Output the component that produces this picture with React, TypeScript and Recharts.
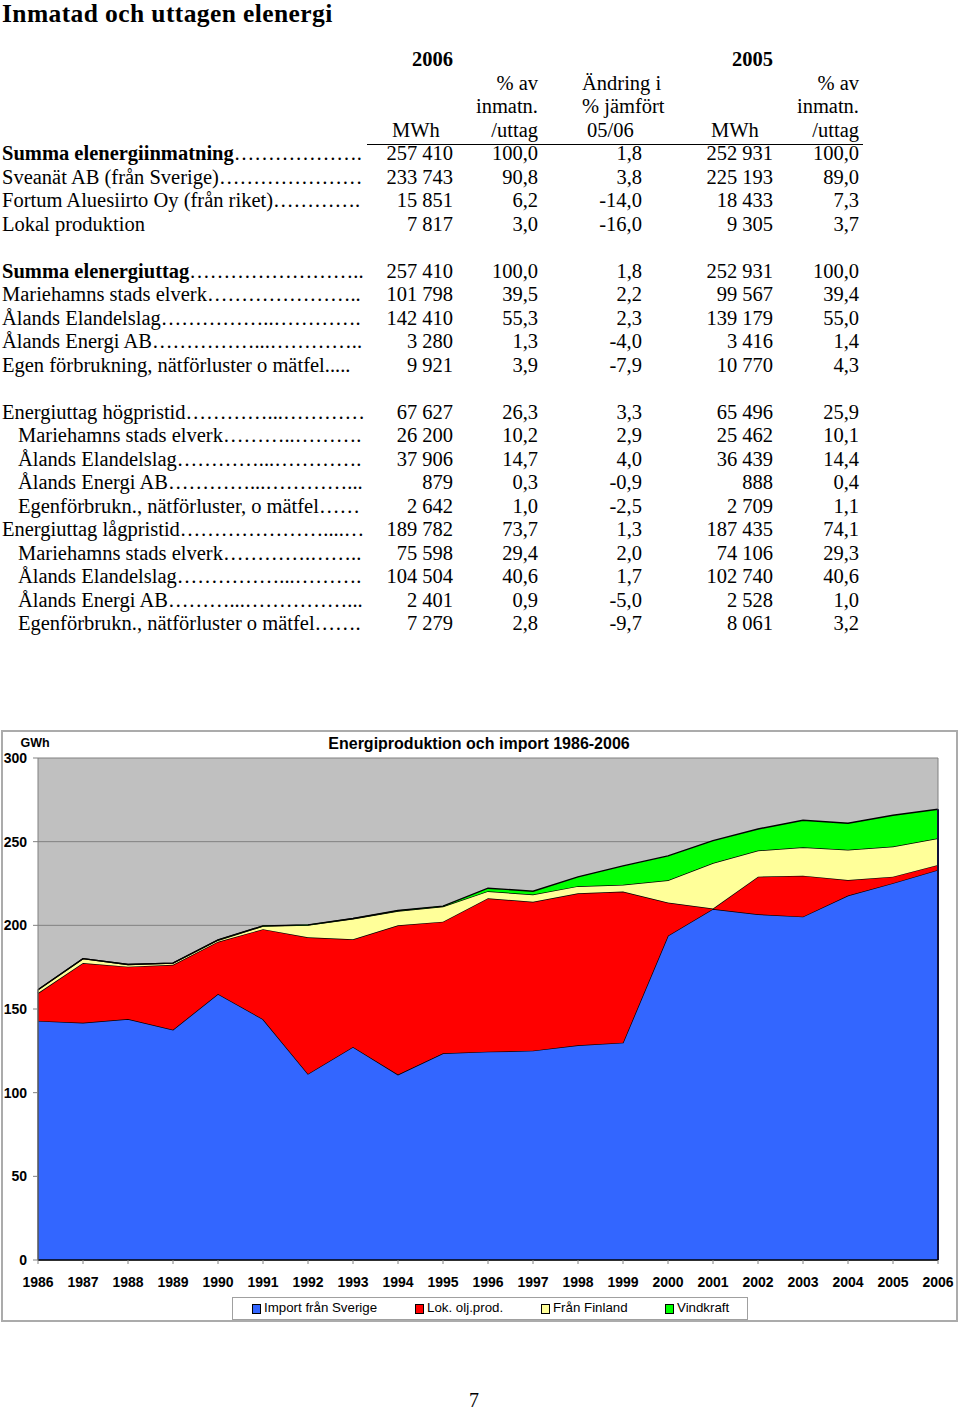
import { AreaChart, Area, XAxis, YAxis, CartesianGrid, ReferenceLine } from 'recharts';

// Diagram: GWh per år, staplade ytor
const years = [
  '1986', '1987', '1988', '1989', '1990', '1991', '1992', '1993', '1994', '1995', '1996',
  '1997', '1998', '1999', '2000', '2001', '2002', '2003', '2004', '2005', '2006',
];
const importSverige = [142.9, 141.8, 144.0, 137.6, 159.0, 143.9, 111.2, 127.3, 110.8, 123.5, 124.5, 125.1, 128.3, 129.9, 193.8, 209.8, 206.6, 205.2, 217.8, 225.2, 233.1];
const lokOljProd = [16.6, 35.7, 31.3, 38.8, 31.2, 53.8, 81.7, 64.4, 89.2, 78.7, 91.7, 89.0, 90.9, 90.3, 19.8, 0.3, 22.5, 24.5, 9.3, 3.9, 3.0];
const franFinland = [2.0, 2.6, 1.3, 1.0, 0.9, 1.8, 7.2, 12.2, 8.6, 9.0, 4.2, 4.3, 4.2, 4.0, 13.3, 27.1, 15.6, 17.0, 18.0, 18.0, 15.9];
const vindkraft = [0, 0, 0, 0, 0.2, 0.2, 0.2, 0.2, 0.3, 0.3, 1.8, 2.0, 5.6, 11.3, 14.6, 13.4, 12.9, 16.1, 15.9, 18.7, 17.4];
const yTicks = [0, 50, 100, 150, 200, 250, 300];

const series = [
  { key: 'importSverige', name: 'Import från Sverige', color: '#3366FF', values: importSverige },
  { key: 'lokOljProd', name: 'Lok. olj.prod.', color: '#FF0000', values: lokOljProd },
  { key: 'franFinland', name: 'Från Finland', color: '#FFFF99', values: franFinland },
  { key: 'vindkraft', name: 'Vindkraft', color: '#00FF00', values: vindkraft },
];

const data = years.map((year, i) => {
  const row: Record<string, string | number> = { year };
  series.forEach(s => { row[s.key] = s.values[i]; });
  return row;
});

const totalAt = (i: number) => series.reduce((sum, s) => sum + s.values[i], 0);

// Tabell
type Row = { label: string; dots: string; bold?: boolean; indent?: boolean; fixed?: boolean; cells: string[] };

const group1: Row[] = [
  { label: 'Summa elenergiinmatning', dots: '………………', bold: true, cells: ['257 410', '100,0', '1,8', '252 931', '100,0'] },
  { label: 'Sveanät AB (från Sverige)', dots: '…………………', cells: ['233 743', '90,8', '3,8', '225 193', '89,0'] },
  { label: 'Fortum Aluesiirto Oy (från riket)', dots: '…………', cells: ['15 851', '6,2', '-14,0', '18 433', '7,3'] },
  { label: 'Lokal produktion', dots: '', fixed: true, cells: ['7 817', '3,0', '-16,0', '9 305', '3,7'] },
];
const group2: Row[] = [
  { label: 'Summa elenergiuttag', dots: '………………………', bold: true, cells: ['257 410', '100,0', '1,8', '252 931', '100,0'] },
  { label: 'Mariehamns stads elverk', dots: '……………………', cells: ['101 798', '39,5', '2,2', '99 567', '39,4'] },
  { label: 'Ålands Elandelslag', dots: '……………..………', cells: ['142 410', '55,3', '2,3', '139 179', '55,0'] },
  { label: 'Ålands Energi AB', dots: '……………...…………', cells: ['3 280', '1,3', '-4,0', '3 416', '1,4'] },
  { label: 'Egen förbrukning, nätförluster o mätfel', dots: '.....', fixed: true, cells: ['9 921', '3,9', '-7,9', '10 770', '4,3'] },
];
const group3: Row[] = [
  { label: 'Energiuttag högpristid', dots: '…………...…………', cells: ['67 627', '26,3', '3,3', '65 496', '25,9'] },
  { label: 'Mariehamns stads elverk', dots: '………..………', indent: true, cells: ['26 200', '10,2', '2,9', '25 462', '10,1'] },
  { label: 'Ålands Elandelslag', dots: '…………...……………', indent: true, cells: ['37 906', '14,7', '4,0', '36 439', '14,4'] },
  { label: 'Ålands Energi AB', dots: '…………...…………', indent: true, cells: ['879', '0,3', '-0,9', '888', '0,4'] },
  { label: 'Egenförbrukn., nätförluster, o mätfel', dots: '……', indent: true, cells: ['2 642', '1,0', '-2,5', '2 709', '1,1'] },
  { label: 'Energiuttag lågpristid', dots: '…………………....', cells: ['189 782', '73,7', '1,3', '187 435', '74,1'] },
  { label: 'Mariehamns stads elverk', dots: '………….………', indent: true, cells: ['75 598', '29,4', '2,0', '74 106', '29,3'] },
  { label: 'Ålands Elandelslag', dots: '……………...…………', indent: true, cells: ['104 504', '40,6', '1,7', '102 740', '40,6'] },
  { label: 'Ålands Energi AB', dots: '………...………………', indent: true, cells: ['2 401', '0,9', '-5,0', '2 528', '1,0'] },
  { label: 'Egenförbrukn., nätförluster o mätfel', dots: '……', indent: true, cells: ['7 279', '2,8', '-9,7', '8 061', '3,2'] },
];
const tableGroups = [group1, group2, group3];

const colRight = [453, 538, 642, 773, 859];
const LABEL_END = 365;
const ROW0 = 154;
const PITCH = 23.5;
const FS = 20.5;
const serif = '"Liberation Serif", "Times New Roman", serif';
const sans = '"Liberation Sans", Arial, sans-serif';

const rowTop = (i: number) => ROW0 + i * PITCH - PITCH / 2;

// fyll ut punktraden så den slutar vid kolumnen
let ctx: CanvasRenderingContext2D | null = null;
function measure(text: string, bold: boolean) {
  if (!ctx) ctx = document.createElement('canvas').getContext('2d');
  if (!ctx) return text.length * 9;
  ctx.font = `${bold ? 'bold ' : ''}${FS}px ${serif}`;
  return ctx.measureText(text).width;
}
function fitDots(r: Row, avail: number) {
  if (r.fixed) return r.dots;
  const base = measure(r.label, !!r.bold);
  let dots = r.dots;
  while (dots.length && base + measure(dots, false) > avail) dots = dots.slice(0, -1);
  while (base + measure(dots + '…', false) <= avail) dots += '…';
  while (base + measure(dots + '.', false) <= avail) dots += '.';
  return dots;
}

function TextAt({ top, left, right, children, bold, size = FS, family = serif }: any) {
  const style: any = {
    position: 'absolute', top, whiteSpace: 'nowrap', fontFamily: family, fontSize: size,
    lineHeight: `${PITCH}px`, fontWeight: bold ? 'bold' : 'normal', color: '#000',
  };
  if (right !== undefined) { style.left = right - 200; style.width = 200; style.textAlign = 'right'; }
  else style.left = left;
  return <div style={style}>{children}</div>;
}

function Table() {
  const items: any[] = [];
  let idx = 0;
  tableGroups.forEach((g, gi) => {
    g.forEach(r => {
      const top = rowTop(idx);
      const left = r.indent ? 18 : 2;
      items.push(
        <div key={`l${idx}`} style={{ position: 'absolute', top, left, whiteSpace: 'nowrap', fontFamily: serif, fontSize: FS, lineHeight: `${PITCH}px` }}>
          <span style={{ fontWeight: r.bold ? 'bold' : 'normal' }}>{r.label}</span>{fitDots(r, LABEL_END - left)}
        </div>
      );
      r.cells.forEach((c, ci) => items.push(<TextAt key={`c${idx}-${ci}`} top={top} right={colRight[ci]}>{c}</TextAt>));
      idx++;
    });
    if (gi < tableGroups.length - 1) idx++;
  });
  return (
    <>
      <TextAt top={rowTop(-4)} right={colRight[0]} bold>2006</TextAt>
      <TextAt top={rowTop(-4)} right={colRight[3]} bold>2005</TextAt>
      <TextAt top={rowTop(-3)} right={colRight[1]}>% av</TextAt>
      <TextAt top={rowTop(-2)} right={colRight[1]}>inmatn.</TextAt>
      <TextAt top={rowTop(-1)} right={colRight[1]}>/uttag</TextAt>
      <TextAt top={rowTop(-3)} left={582}>Ändring i</TextAt>
      <TextAt top={rowTop(-2)} left={582}>% jämfört</TextAt>
      <TextAt top={rowTop(-1)} left={587}>05/06</TextAt>
      <TextAt top={rowTop(-1)} left={392}>MWh</TextAt>
      <TextAt top={rowTop(-1)} left={711}>MWh</TextAt>
      <TextAt top={rowTop(-3)} right={colRight[4]}>% av</TextAt>
      <TextAt top={rowTop(-2)} right={colRight[4]}>inmatn.</TextAt>
      <TextAt top={rowTop(-1)} right={colRight[4]}>/uttag</TextAt>
      <div style={{ position: 'absolute', left: 367, top: 143.5, width: 496, height: 1.5, background: '#000' }} />
      {items}
    </>
  );
}

function Legend() {
  const swatchX = [252, 415, 541, 665];
  return (
    <div style={{ position: 'absolute', left: 232, top: 1297, width: 514, height: 21, border: '1px solid #a0a0a0', background: '#fff' }}>
      {series.map((s, i) => (
        <div key={s.key}>
          <div style={{ position: 'absolute', left: swatchX[i] - 233, top: 6, width: 7, height: 8, background: s.color, border: '1px solid #000' }} />
          <div style={{ position: 'absolute', left: swatchX[i] - 233 + 12, top: 2, fontFamily: sans, fontSize: 13.3, lineHeight: '16px', whiteSpace: 'nowrap' }}>{s.name}</div>
        </div>
      ))}
    </div>
  );
}

export default function App() {
  const last = years.length - 1;
  return (
    <div style={{ position: 'relative', width: 960, height: 1409, background: '#fff', overflow: 'hidden' }}>
      <style>{'body{margin:0}'}</style>
      <div style={{ position: 'absolute', left: 2, top: 0, fontFamily: serif, fontSize: 25.5, letterSpacing: 0.4, fontWeight: 'bold', lineHeight: '28px', whiteSpace: 'nowrap' }}>
        Inmatad och uttagen elenergi
      </div>
      <Table />

      <div style={{ position: 'absolute', left: 1, top: 730, width: 953, height: 588, border: '2px solid #ababab' }} />
      <div style={{ position: 'absolute', left: 0, top: 731 }}>
        <AreaChart width={960} height={590} data={data} margin={{ top: 27, right: 22, left: 0, bottom: 0 }}>
          <CartesianGrid vertical={false} stroke="#808080" fill="#C0C0C0" fillOpacity={1} />
          <XAxis
            dataKey="year"
            type="category"
            interval={0}
            height={61}
            tickSize={4}
            tickMargin={13}
            axisLine={{ stroke: '#000', strokeWidth: 1.5 }}
            tickLine={{ stroke: '#808080' }}
            tick={{ fill: '#000', fontFamily: sans, fontSize: 14, fontWeight: 'bold' }}
          />
          <YAxis
            domain={[0, 300]}
            ticks={yTicks}
            width={38}
            tickSize={5}
            tickMargin={6}
            axisLine={{ stroke: '#808080' }}
            tickLine={{ stroke: '#808080' }}
            tick={{ fill: '#000', fontFamily: sans, fontSize: 14, fontWeight: 'bold' }}
          />
          {series.map(s => (
            <Area
              key={s.key}
              type="linear"
              dataKey={s.key}
              name={s.name}
              stackId="1"
              stroke="#000"
              strokeWidth={1.4}
              fill={s.color}
              fillOpacity={1}
              dot={false}
              activeDot={false}
              isAnimationActive={false}
            />
          ))}
          <ReferenceLine x={years[last]} stroke="#808080" />
          <ReferenceLine segment={[{ x: years[last], y: 0 }, { x: years[last], y: totalAt(last) }]} stroke="#10103a" strokeWidth={2} />
          <ReferenceLine segment={[{ x: years[0], y: 0 }, { x: years[0], y: totalAt(0) }]} stroke="#000" strokeWidth={1} />
        </AreaChart>
      </div>
      <div style={{ position: 'absolute', left: 20.5, top: 736, fontFamily: sans, fontSize: 12.5, fontWeight: 'bold', lineHeight: '14px' }}>GWh</div>
      <div style={{ position: 'absolute', left: 179, width: 600, top: 735, textAlign: 'center', fontFamily: sans, fontSize: 16, fontWeight: 'bold', lineHeight: '18px', whiteSpace: 'nowrap' }}>
        Energiproduktion och import 1986-2006
      </div>
      <Legend />

      <div style={{ position: 'absolute', left: 464, width: 20, top: 1388.5, textAlign: 'center', fontFamily: serif, fontSize: 20, lineHeight: `${PITCH}px` }}>7</div>
    </div>
  );
}
